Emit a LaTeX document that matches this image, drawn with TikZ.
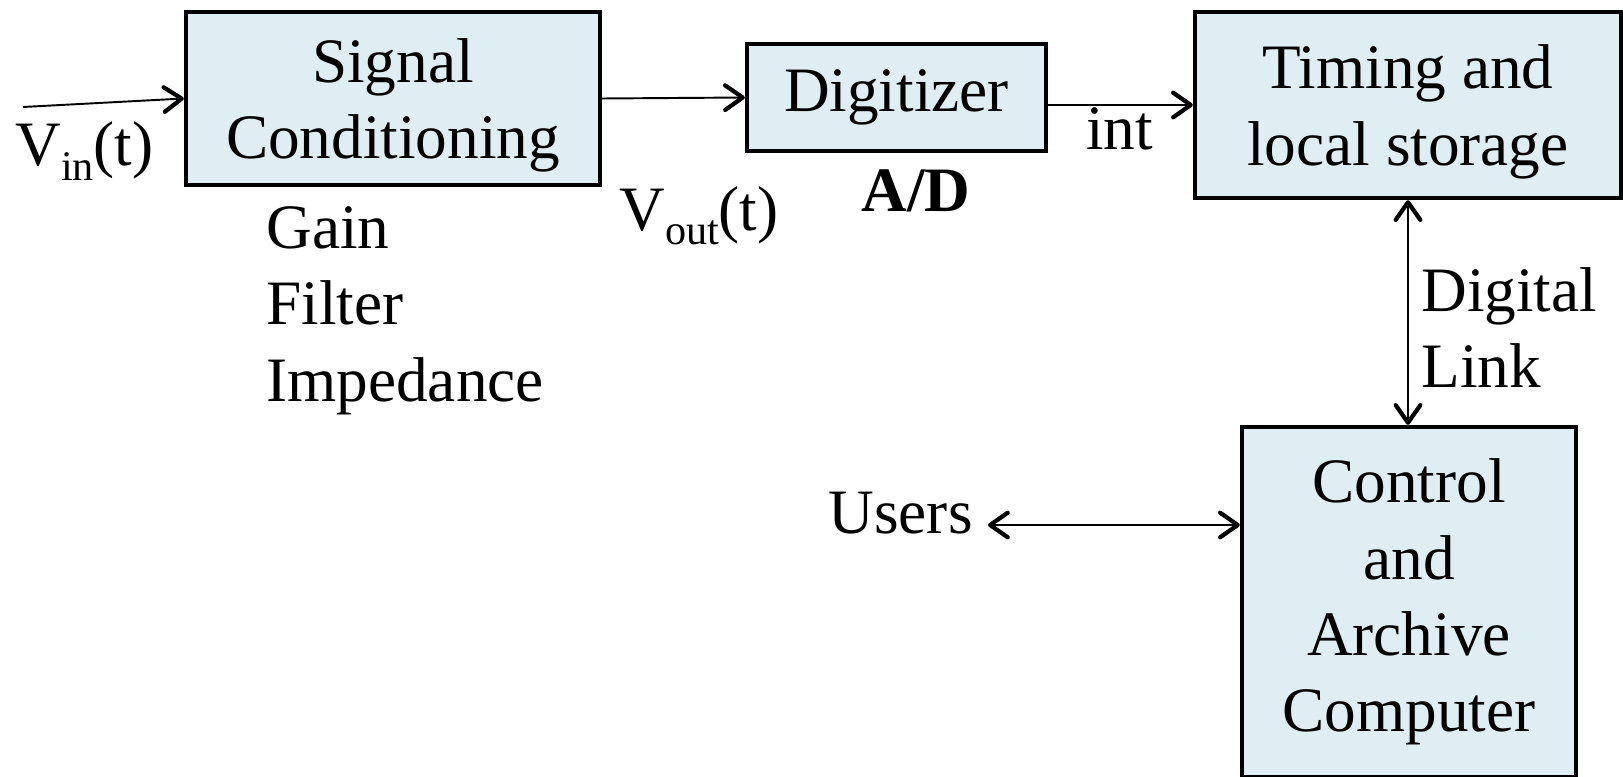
\documentclass[tikz,border=0pt]{standalone}
\usepackage{fontspec}
\setmainfont{Liberation Serif}
\usetikzlibrary{arrows.meta}
\definecolor{boxfill}{RGB}{223,238,242}
\tikzstyle{base} = [font=\fontsize{36}{43.5}\selectfont, inner sep=0pt]
\tikzstyle{block} = [base, rectangle, draw=black, line width=2.5pt, fill=boxfill, align=center]
\tikzstyle{tag} = [base, align=left]
\tikzstyle{link} = [line width=1.1pt]
\newcommand{\sub}[1]{\raisebox{-8pt}{\fontsize{24}{24}\selectfont #1}}

\begin{document}
\begin{tikzpicture}[x=0.02cm, y=-0.02cm, >={Straight Barb[length=10pt,width=14pt,line width=2.4pt,round]}]
    \clip (0,0) rectangle (1623,777);
    \node (sc) [block, minimum width=8.28cm, minimum height=3.46cm, text depth=0pt] at (393,98.5) {Signal\\Conditioning};
    \node (dig) [block, minimum width=5.98cm, minimum height=2.14cm] at (896.5,97.5) {Digitizer};
    \node (tim) [block, minimum width=8.52cm, minimum height=3.72cm, text depth=0pt] at (1408,105) {Timing and\\local storage};
    \node (ctrl) [block, minimum width=6.68cm, minimum height=7cm] at (1409,602) {Control\\and\\Archive\\Computer};

    \node (vin) [tag, anchor=base west] at (15,166) {V\sub{in}(t)};
    \node (vout) [tag, anchor=base west] at (619,230) {V\sub{out}(t)};
    \node (ad) [tag, anchor=base, font=\fontsize{36}{43.5}\selectfont\bfseries] at (916,212) {A/D};
    \node (int) [tag, anchor=base west] at (1086,150) {int};
    \node (tasks) [tag, anchor=north west] at (266,206) {Gain\\Filter\\Impedance};
    \node (dlink) [tag, anchor=north west] at (1421,267) {Digital\\Link};
    \node (users) [tag, anchor=base east] at (973,533) {Users};

    \coordinate (vinstart) at (23,107);
    \coordinate (usersend) at (988,525);

    \draw[link, ->] (vinstart) -- (sc.west);
    \draw[link, ->] (sc.east) -- (dig.west);
    \draw[link, ->] (dig.east |- tim.west) -- (tim.west);
    \draw[link, <->] (tim.south) -- (tim.south |- ctrl.north);
    \draw[link, <->] (usersend) -- (usersend -| ctrl.west);
\end{tikzpicture}
\end{document}
